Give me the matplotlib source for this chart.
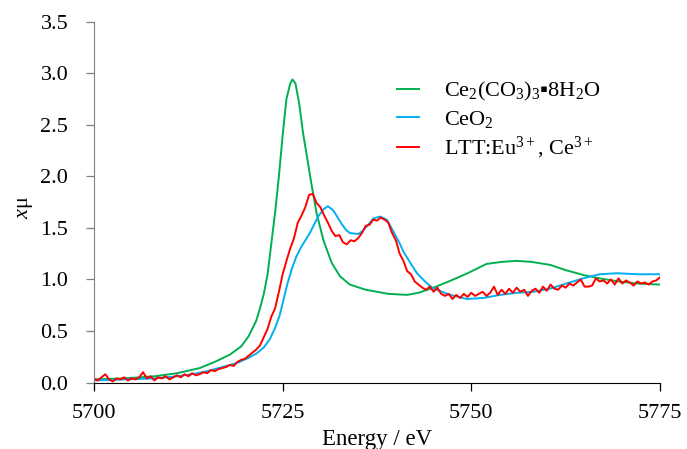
import numpy as np
import matplotlib
matplotlib.use("Agg")
import matplotlib.pyplot as plt

plt.rcParams['font.family'] = ['Liberation Serif', 'DejaVu Serif']
plt.rcParams['mathtext.fontset'] = 'custom'
plt.rcParams['mathtext.rm'] = 'Liberation Serif'
plt.rcParams['mathtext.it'] = 'Liberation Serif:italic'
plt.rcParams['mathtext.fallback'] = 'stix'

# ---- data ----
green_E = [5700, 5704, 5708, 5711, 5714, 5716, 5718, 5719.5, 5720.5, 5721.5, 5722, 5722.5,
           5723, 5723.5, 5724, 5724.5, 5725, 5725.5, 5726, 5726.3, 5726.7, 5727.2, 5727.7,
           5728.2, 5728.8, 5729.5, 5730.4, 5731.5, 5732.6, 5733.9, 5736, 5739, 5741.5, 5743,
           5745, 5747, 5749.5, 5752, 5754, 5756, 5758, 5760.5, 5762.5, 5765, 5767, 5769.5,
           5772, 5775]
green_mu = [0.03, 0.04, 0.06, 0.09, 0.14, 0.20, 0.27, 0.35, 0.45, 0.60, 0.72, 0.86,
            1.05, 1.35, 1.65, 2.00, 2.40, 2.75, 2.90, 2.94, 2.90, 2.70, 2.42,
            2.20, 1.93, 1.64, 1.38, 1.16, 1.03, 0.95, 0.90, 0.86, 0.85, 0.87,
            0.92, 0.98, 1.06, 1.15, 1.17, 1.18, 1.17, 1.14, 1.09, 1.04, 1.01, 0.98,
            0.96, 0.95]

blue_E = [5700, 5704, 5708, 5711, 5713, 5715, 5717, 5719, 5720.5, 5721.5, 5722.5, 5723.3,
          5724, 5724.6, 5725.1, 5725.6, 5726.2, 5726.8, 5727.5, 5728.6, 5729.7, 5730.4,
          5731, 5731.7, 5732.3, 5732.8, 5733.4, 5733.9, 5735, 5735.6, 5736.1, 5737,
          5737.9, 5738.8, 5739.4, 5740, 5740.5, 5741, 5742, 5742.8, 5744, 5745, 5747.2,
          5749.4, 5751.6, 5753.8, 5756, 5758.2, 5760.4, 5762.6, 5764.8, 5767, 5769.3,
          5772, 5775]
blue_mu = [0.02, 0.03, 0.04, 0.06, 0.08, 0.11, 0.15, 0.19, 0.24, 0.28, 0.34, 0.42,
           0.53, 0.65, 0.80, 0.95, 1.10, 1.22, 1.32, 1.45, 1.61, 1.68,
           1.71, 1.67, 1.60, 1.54, 1.48, 1.45, 1.44, 1.47, 1.51, 1.59,
           1.61, 1.58, 1.50, 1.42, 1.35, 1.27, 1.15, 1.06, 0.97, 0.91, 0.85,
           0.81, 0.82, 0.85, 0.87, 0.88, 0.91, 0.96, 1.01, 1.05, 1.06,
           1.05, 1.05]

red_E = np.arange(5700, 5775.01, 0.5)
red_mu = [0.04, 0.02, 0.05, 0.08, 0.03, 0.01, 0.04, 0.03, 0.05, 0.02,
          0.04, 0.03, 0.05, 0.10, 0.04, 0.06, 0.02, 0.05, 0.04, 0.06,
          0.03, 0.05, 0.07, 0.05, 0.08, 0.06, 0.09, 0.07, 0.08, 0.10,
          0.09, 0.12, 0.11, 0.13, 0.14, 0.15, 0.17, 0.16, 0.20, 0.22,
          0.23, 0.26, 0.29, 0.32, 0.36, 0.44, 0.52, 0.64, 0.72, 0.88,
          1.05, 1.18, 1.30, 1.40, 1.55, 1.62, 1.70, 1.82, 1.83, 1.74,
          1.70, 1.62, 1.55, 1.47, 1.42, 1.43, 1.36, 1.34, 1.38, 1.37,
          1.40, 1.45, 1.52, 1.53, 1.58, 1.57, 1.60, 1.58, 1.55, 1.45,
          1.38, 1.25, 1.18, 1.08, 1.05, 0.98, 0.95, 0.92, 0.90, 0.93,
          0.88, 0.92, 0.86, 0.84, 0.86, 0.81, 0.85, 0.82, 0.86, 0.83,
          0.87, 0.84, 0.86, 0.88, 0.84, 0.87, 0.93, 0.85, 0.90, 0.86,
          0.91, 0.87, 0.92, 0.88, 0.90, 0.84, 0.89, 0.91, 0.87, 0.93,
          0.89, 0.95, 0.91, 0.90, 0.94, 0.92, 0.96, 0.94, 0.97, 1.00,
          0.93, 0.93, 0.94, 1.01, 0.98, 0.99, 0.96, 1.00, 0.95, 1.01,
          0.96, 0.99, 0.97, 0.94, 0.98, 0.96, 0.97, 0.95, 0.98, 0.99,
          1.02]

labels = [r'Ce$_\mathregular{2}$(CO$_\mathregular{3}$)$_\mathregular{3}$▪8H$_\mathregular{2}$O',
          r'CeO$_\mathregular{2}$',
          r'LTT:Eu$^\mathregular{3+}$, Ce$^\mathregular{3+}$']
colors = ['#00B050', '#00B0F0', '#FF0000']
x_ticks = [5700, 5725, 5750, 5775]
y_ticks = [0.0, 0.5, 1.0, 1.5, 2.0, 2.5, 3.0, 3.5]

# ---- figure ----
W, H = 687, 449
fig = plt.figure(figsize=(W / 100, H / 100), dpi=100)
ax = fig.add_axes([94 / W, 1 - 382.5 / H, 566 / W, 360.8 / H])

ax.plot(green_E, green_mu, color=colors[0], lw=1.4, label=labels[0])
ax.plot(blue_E, blue_mu, color=colors[1], lw=1.4, label=labels[1])
ax.plot(red_E, red_mu, color=colors[2], lw=1.4, label=labels[2])

ax.set_xlim(5700, 5775)
ax.set_ylim(0, 3.5)
ax.set_xticks(x_ticks)
ax.set_yticks(y_ticks)
ax.set_yticklabels([f'{v:.1f}' for v in y_ticks])
for s in ['top', 'right']:
    ax.spines[s].set_visible(False)
ax.spines['left'].set_color('#7f7f7f')
ax.spines['bottom'].set_color('black')
ax.tick_params(axis='both', direction='out', length=5.5, width=0.9, labelsize=16)
ax.tick_params(axis='y', pad=13, color='#7f7f7f')
ax.tick_params(axis='x', pad=10)

ax.set_xlabel('Energy / eV', fontsize=16.5)
ax.xaxis.set_label_coords(0.5, -0.128)
ax.set_ylabel(r'$x$μ', fontsize=16)
ax.yaxis.set_label_coords(-0.105, 0.484)

leg = ax.legend(loc='upper left', bbox_to_anchor=(397 / W, 1 - 80 / H),
                bbox_transform=fig.transFigure, frameon=False, fontsize=16,
                handlelength=1.0, handletextpad=1.1, labelspacing=0.25,
                borderpad=0, borderaxespad=0)

fig.savefig('out.png', dpi=100)
